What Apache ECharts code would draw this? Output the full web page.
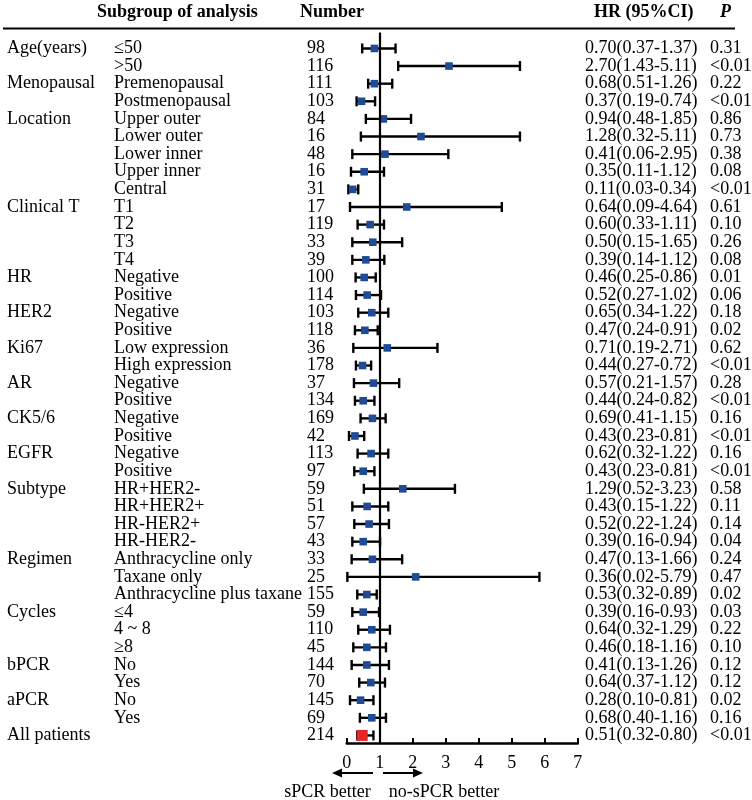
<!DOCTYPE html>
<html>
<head>
<meta charset="utf-8">
<script src="https://cdn.jsdelivr.net/npm/echarts@6/dist/echarts.min.js"></script>
<style>
html,body{margin:0;padding:0;background:#fff;}
#chart{width:752px;height:800px;}
</style>
</head>
<body>
<div id="chart"></div>
<script>
// ---- data ----
const groupLabels = ["Age(years)","","Menopausal","","Location","","","","","Clinical T","","","","HR","","HER2","","Ki67","","AR","","CK5/6","","EGFR","","Subtype","","","","Regimen","","","Cycles","","","bPCR","","aPCR","","All patients"];
const subgroups = ["≤50",">50","Premenopausal","Postmenopausal","Upper outer","Lower outer","Lower inner","Upper inner","Central","T1","T2","T3","T4","Negative","Positive","Negative","Positive","Low expression","High expression","Negative","Positive","Negative","Positive","Negative","Positive","HR+HER2-","HR+HER2+","HR-HER2+","HR-HER2-","Anthracycline only","Taxane only","Anthracycline plus taxane","≤4","4 ~ 8","≥8","No","Yes","No","Yes",""];
const numbers = ["98","116","111","103","84","16","48","16","31","17","119","33","39","100","114","103","118","36","178","37","134","169","42","113","97","59","51","57","43","33","25","155","59","110","45","144","70","145","69","214"];
const hrText = ["0.70(0.37-1.37)","2.70(1.43-5.11)","0.68(0.51-1.26)","0.37(0.19-0.74)","0.94(0.48-1.85)","1.28(0.32-5.11)","0.41(0.06-2.95)","0.35(0.11-1.12)","0.11(0.03-0.34)","0.64(0.09-4.64)","0.60(0.33-1.11)","0.50(0.15-1.65)","0.39(0.14-1.12)","0.46(0.25-0.86)","0.52(0.27-1.02)","0.65(0.34-1.22)","0.47(0.24-0.91)","0.71(0.19-2.71)","0.44(0.27-0.72)","0.57(0.21-1.57)","0.44(0.24-0.82)","0.69(0.41-1.15)","0.43(0.23-0.81)","0.62(0.32-1.22)","0.43(0.23-0.81)","1.29(0.52-3.23)","0.43(0.15-1.22)","0.52(0.22-1.24)","0.39(0.16-0.94)","0.47(0.13-1.66)","0.36(0.02-5.79)","0.53(0.32-0.89)","0.39(0.16-0.93)","0.64(0.32-1.29)","0.46(0.18-1.16)","0.41(0.13-1.26)","0.64(0.37-1.12)","0.28(0.10-0.81)","0.68(0.40-1.16)","0.51(0.32-0.80)"];
const pValues = ["0.31","<0.01","0.22","<0.01","0.86","0.73","0.38","0.08","<0.01","0.61","0.10","0.26","0.08","0.01","0.06","0.18","0.02","0.62","<0.01","0.28","<0.01","0.16","<0.01","0.16","<0.01","0.58","0.11","0.14","0.04","0.24","0.47","0.02","0.03","0.22","0.10","0.12","0.12","0.02","0.16","<0.01"];
// plotted marks (as drawn in the figure)
const plotLow  = [0.47,1.56,0.65,0.30,0.58,0.43,0.17,0.13,0.05,0.10,0.33,0.17,0.17,0.27,0.28,0.35,0.25,0.20,0.28,0.22,0.25,0.42,0.07,0.33,0.23,0.52,0.17,0.23,0.17,0.15,0.02,0.32,0.17,0.35,0.20,0.15,0.38,0.10,0.40,0.32];
const plotEst  = [0.84,3.10,0.84,0.45,1.11,2.25,1.16,0.53,0.18,1.82,0.71,0.79,0.58,0.53,0.62,0.76,0.55,1.23,0.48,0.81,0.50,0.78,0.25,0.74,0.50,1.70,0.62,0.68,0.50,0.78,2.09,0.61,0.50,0.76,0.61,0.61,0.73,0.42,0.76,0.47];
const plotHigh = [1.48,5.25,1.38,0.86,1.95,5.25,3.08,1.13,0.35,4.70,1.13,1.68,1.14,0.88,1.04,1.26,0.94,2.75,0.74,1.59,0.84,1.18,0.53,1.26,0.84,3.28,1.26,1.28,1.01,1.68,5.84,0.91,0.98,1.31,1.19,1.28,1.16,0.81,1.19,0.81];
const xTicks = [0,1,2,3,4,5,6,7];
const headers = ["Subgroup of analysis","Number","HR (95%CI)","P"];
const arrowTexts = ["sPCR better","no-sPCR better"];

// ---- layout ----
const FONT = '"Liberation Serif","Times New Roman",serif';
const BLUE = '#1f4a94', RED = '#e3262a';
const colX = {group:7, sub:114, num:307, hr:585, p:710};

const chart = echarts.init(document.getElementById('chart'), null, {renderer:'canvas'});

const forestData = plotEst.map((e,i)=>[i, plotLow[i], e, plotHigh[i]]);
const textData = subgroups.map((s,i)=>[i]);

const option = {
  animation:false,
  backgroundColor:'#fff',
  grid:{left:346.7, right:752-577.7, top:32.6, bottom:57, containLabel:false},
  xAxis:{
    type:'value', min:0, max:7, interval:1, position:'bottom',
    axisLine:{show:true, onZero:false, lineStyle:{color:'#000', width:2.5}},
    axisTick:{show:true, inside:true, length:5, lineStyle:{color:'#000', width:2}},
    axisLabel:{show:true, margin:11, color:'#000', fontFamily:FONT, fontSize:18,
      formatter:v=>String(xTicks[xTicks.indexOf(v)])},
    splitLine:{show:false}
  },
  yAxis:{type:'value', min:-0.9, max:39.43, inverse:true, show:false},
  series:[
    {
      type:'custom', name:'forest', z:3, clip:false,
      data:forestData,
      encode:{x:[1,2,3], y:0},
      renderItem:(params, api)=>{
        const row = api.value(0);
        const pLo = api.coord([api.value(1), row]);
        const pE = api.coord([api.value(2), row]);
        const pHi = api.coord([api.value(3), row]);
        const isTotal = row === plotEst.length-1;
        const cap = 5;
        const ls = {stroke:'#000', lineWidth:2.4};
        const children = [
          {type:'line', shape:{x1:pLo[0], y1:pLo[1], x2:pHi[0], y2:pHi[1]}, style:ls},
          {type:'line', shape:{x1:pLo[0], y1:pLo[1]-cap, x2:pLo[0], y2:pLo[1]+cap}, style:ls},
          {type:'line', shape:{x1:pHi[0], y1:pHi[1]-cap, x2:pHi[0], y2:pHi[1]+cap}, style:ls}
        ];
        if(isTotal){
          children.push({type:'rect', shape:{x:pE[0]-5.5, y:pE[1]-5.5, width:11, height:11}, style:{fill:RED}, z2:5});
        } else {
          children.push({type:'rect', shape:{x:pE[0]-3.8, y:pE[1]-3.8, width:7.6, height:7.6}, style:{fill:BLUE}, z2:5});
        }
        return {type:'group', children};
      }
    },
    {
      type:'custom', name:'table', z:2, clip:false, silent:true,
      data:textData,
      encode:{y:0},
      renderItem:(params, api)=>{
        const i = params.dataIndex;
        const y = api.coord([0, i])[1];
        const st = (t)=>({text:t, fill:'#000', font:'18px '+FONT, textVerticalAlign:'middle', textAlign:'left'});
        return {type:'group', children:[
          {type:'text', x:colX.group, y:y, style:st(groupLabels[i])},
          {type:'text', x:colX.sub, y:y, style:st(subgroups[i])},
          {type:'text', x:colX.num, y:y, style:st(numbers[i])},
          {type:'text', x:colX.hr, y:y, style:st(hrText[i])},
          {type:'text', x:colX.p, y:y, style:st(pValues[i])}
        ]};
      }
    },
    {
      type:'line', data:[], 
      markLine:{silent:true, symbol:'none', label:{show:false},
        lineStyle:{color:'#000', width:2.2, type:'solid'},
        data:[{xAxis:1}]}
    }
  ],
  graphic:[
    {type:'text', left:97, top:3, style:{text:headers[0], font:'bold 18px '+FONT, fill:'#000'}},
    {type:'text', left:300, top:3, style:{text:headers[1], font:'bold 18px '+FONT, fill:'#000'}},
    {type:'text', left:594, top:3, style:{text:headers[2], font:'bold 18px '+FONT, fill:'#000'}},
    {type:'text', left:720, top:3, style:{text:headers[3], font:'italic bold 18px '+FONT, fill:'#000'}},
    {type:'line', shape:{x1:3, y1:28.5, x2:735, y2:28.5}, style:{stroke:'#000', lineWidth:2}},
    // arrows
    {type:'line', shape:{x1:373, y1:773, x2:340, y2:773}, style:{stroke:'#000', lineWidth:2}},
    {type:'polygon', shape:{points:[[332,773],[342,768.5],[342,777.5]]}, style:{fill:'#000'}},
    {type:'line', shape:{x1:383, y1:773, x2:415, y2:773}, style:{stroke:'#000', lineWidth:2}},
    {type:'polygon', shape:{points:[[423,773],[413,768.5],[413,777.5]]}, style:{fill:'#000'}},
    {type:'text', x:327.5, y:792, style:{text:arrowTexts[0], font:'18px '+FONT, fill:'#000', textAlign:'center', textVerticalAlign:'middle'}},
    {type:'text', x:444, y:792, style:{text:arrowTexts[1], font:'18px '+FONT, fill:'#000', textAlign:'center', textVerticalAlign:'middle'}}
  ]
};
chart.setOption(option);
</script>
</body>
</html>
